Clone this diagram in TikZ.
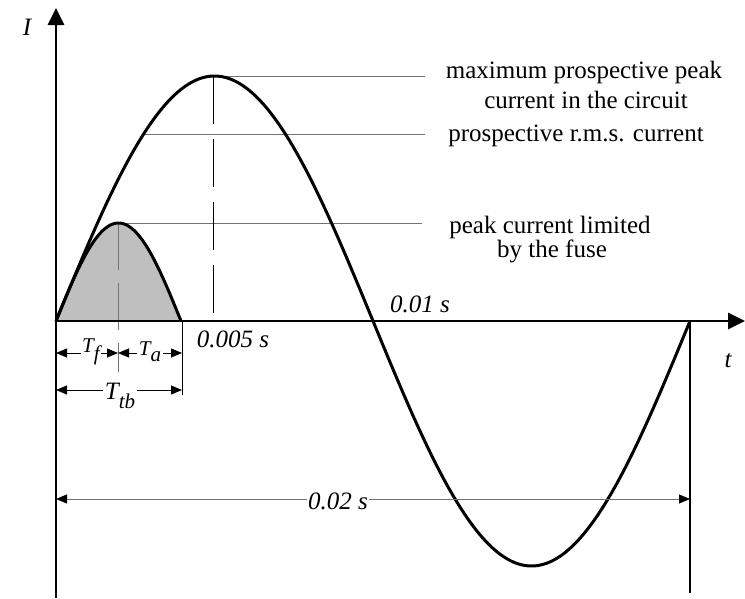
\documentclass[tikz,border=0pt]{standalone}
\usepackage{fontspec}
\setmainfont{Liberation Serif}
\usetikzlibrary{arrows.meta}
\begin{document}
\begin{tikzpicture}[x=1pt,y=-1pt,
  axis/.style={line width=2.8pt, -{Triangle[length=17pt,width=16pt]}},
  curve/.style={line width=3pt, line join=round},
  guide/.style={line width=0.8pt, black!55},
  dimline/.style={line width=0.9pt, {Triangle[length=11pt,width=9pt]}-{Triangle[length=11pt,width=9pt]}},
  longdim/.style={line width=0.9pt, black!55, {Triangle[length=11pt,width=9pt,black]}-{Triangle[length=11pt,width=9pt,black]}},
  extline/.style={line width=0.9pt},
  lbl/.style={font=\fontsize{25}{30}\selectfont, inner sep=0pt, anchor=base},
  ilbl/.style={font=\fontsize{25}{30}\selectfont\itshape, inner sep=0pt, anchor=base},
  slbl/.style={font=\fontsize{21}{24}\selectfont\itshape, inner sep=1.5pt, fill=white},
  blbl/.style={font=\fontsize{25}{30}\selectfont\itshape, inner sep=1.5pt, fill=white},
]
\useasboundingbox (0,0) rectangle (745,598);
% key points
\coordinate (O) at (56,321);
\coordinate (Ytop) at (56,8);
\coordinate (Ybot) at (56,598);
\coordinate (Xend) at (745,321);
\coordinate (Pk) at (213,76);
\coordinate (PkR) at (425,76);
\coordinate (Rms) at (143,134);
\coordinate (RmsR) at (425,134);
\coordinate (Fp) at (118,223);
\coordinate (FpR) at (422,223);
\coordinate (FpD) at (118,372);
\coordinate (Fe) at (182,321);
\coordinate (FeD) at (182,395);
\coordinate (E) at (690,321);
\coordinate (ED) at (690,593);
% fuse-limited area
\fill[black!25] plot[domain=0:125,samples=80,variable=\t] ({56+\t},{321-98*sin(\t/125*180)}) -- cycle;
% guide lines
\draw[guide] (Pk) -- (PkR);
\draw[guide] (Rms) -- (RmsR);
\draw[guide] (Fp) -- (FpR);
\draw[guide, dash pattern=on 47pt off 13pt] (Fp) -- (FpD);
\draw[line width=0.9pt, dash pattern=on 48pt off 15pt] (Pk) -- (O -| Pk);
\draw[extline] (Fe) -- (FeD);
% axes
\draw[axis] (Ybot) -- (Ytop);
\draw[axis] (O) -- (Xend);
% curves
\draw[curve] plot[domain=0:634,samples=240,variable=\t] ({56+\t},{321-245*sin(\t/634*360)});
\draw[curve] plot[domain=0:125,samples=80,variable=\t] ({56+\t},{321-98*sin(\t/125*180)});
\draw[line width=2.8pt] (E) -- (ED);
% dimensions
\coordinate (Tf1) at (56,353);
\coordinate (Tf2) at (118,353);
\coordinate (Ta2) at (182,353);
\coordinate (Tb1) at (56,390);
\coordinate (Tb2) at (182,390);
\coordinate (D1) at (56,499);
\coordinate (D2) at (690,499);
\draw[dimline] (Tf1) -- (Tf2);
\draw[dimline] (Tf2) -- (Ta2);
\draw[dimline] (Tb1) -- (Tb2);
\draw[longdim] (D1) -- (D2);
\node[slbl] (tf) at (91,352) {T\raisebox{-0.35em}{f}};
\node[slbl] (ta) at (150,352) {T\raisebox{-0.3em}{a}};
\node[blbl] (ttb) at (120,396) {T\raisebox{-0.35em}{\fontsize{21}{24}\selectfont tb}};
\node[blbl] (d02) at (338,501) {0.02 s};
% labels
\node[ilbl] (Ilab) at (27,35) {I};
\node[ilbl] (tlab) at (728,367) {t};
\node[ilbl] (l001) at (420,312) {0.01 s};
\node[ilbl] (l0005) at (233,347) {0.005 s};
\node[lbl] (m1) at (584,78) {maximum prospective peak};
\node[lbl] (m2) at (586,108) {current in the circuit};
\node[lbl] (r1) at (576,141) {prospective r.m.s. current};
\node[lbl] (f1) at (550,233) {peak current limited};
\node[lbl] (f2) at (552,257) {by the fuse};
\end{tikzpicture}
\end{document}
